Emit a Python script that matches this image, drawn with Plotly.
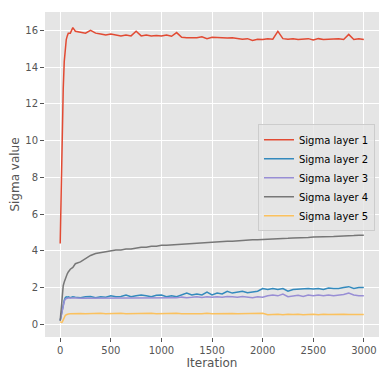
import plotly.graph_objects as go

iters = [0, 10, 20, 30, 40, 50, 60, 70, 80, 100, 125] + list(range(150, 3000, 50)) + [2999]

sigma_1 = [4.4, 7.5, 10.5, 12.8, 14.3, 15.0, 15.5, 15.7, 15.85, 15.85, 16.15,
           15.95, 15.9, 15.85, 16.0, 15.85, 15.8, 15.75, 15.8, 15.75, 15.7, 15.75, 15.7, 15.95,
           15.7, 15.75, 15.7, 15.72, 15.7, 15.75, 15.68, 15.88, 15.62, 15.6, 15.58, 15.6, 15.65,
           15.55, 15.62, 15.6, 15.62, 15.58, 15.6, 15.55, 15.52, 15.55, 15.45, 15.52, 15.5,
           15.55, 15.52, 15.95, 15.55, 15.52, 15.55, 15.5, 15.52, 15.55, 15.48, 15.55, 15.5,
           15.52, 15.5, 15.55, 15.5, 15.78, 15.5, 15.55, 15.5]
sigma_2 = [0.2, 0.5, 0.8, 1.1, 1.3, 1.45, 1.5, 1.48, 1.5, 1.45, 1.5,
           1.48, 1.45, 1.5, 1.52, 1.45, 1.5, 1.48, 1.55, 1.5, 1.52, 1.6, 1.5, 1.55,
           1.6, 1.55, 1.5, 1.58, 1.6, 1.5, 1.55, 1.5, 1.62, 1.7, 1.6, 1.65, 1.6,
           1.75, 1.6, 1.7, 1.65, 1.8, 1.7, 1.75, 1.8, 1.72, 1.78, 1.8, 1.95,
           1.9, 1.95, 1.9, 1.95, 1.8, 1.9, 1.92, 1.9, 1.95, 1.92, 1.95, 1.9,
           1.98, 1.95, 1.95, 2.0, 2.05, 1.95, 2.0, 2.0]
sigma_3 = [0.2, 0.5, 0.8, 1.05, 1.25, 1.38, 1.42, 1.42, 1.43, 1.42, 1.42,
           1.43, 1.42, 1.42, 1.45, 1.42, 1.43, 1.42, 1.45, 1.43, 1.42, 1.45, 1.43, 1.45,
           1.42, 1.44, 1.43, 1.45, 1.43, 1.42, 1.46, 1.44, 1.48, 1.45, 1.47, 1.5, 1.46,
           1.5, 1.47, 1.5, 1.48, 1.52, 1.5, 1.48, 1.52, 1.48, 1.45, 1.5, 1.47,
           1.55, 1.6, 1.55, 1.65, 1.5, 1.55, 1.58, 1.52, 1.6, 1.55, 1.6, 1.55,
           1.6, 1.55, 1.58, 1.62, 1.7, 1.6, 1.55, 1.55]
sigma_4 = [0.2, 1.0, 1.6, 2.1, 2.3, 2.5, 2.7, 2.75, 2.85, 3.0, 3.1,
           3.3, 3.4, 3.6, 3.75, 3.85, 3.9, 3.95, 4.0, 4.05, 4.05, 4.1, 4.1, 4.15,
           4.2, 4.2, 4.25, 4.25, 4.3, 4.3, 4.32, 4.35, 4.35, 4.38, 4.4, 4.4, 4.45,
           4.45, 4.48, 4.5, 4.5, 4.52, 4.52, 4.55, 4.55, 4.58, 4.6, 4.6, 4.62,
           4.63, 4.65, 4.65, 4.67, 4.68, 4.7, 4.7, 4.72, 4.73, 4.75, 4.75, 4.77,
           4.78, 4.78, 4.8, 4.8, 4.82, 4.83, 4.85, 4.85]
sigma_5 = [0.15, 0.1, 0.12, 0.25, 0.38, 0.48, 0.52, 0.55, 0.56, 0.57, 0.58,
           0.58, 0.59, 0.58, 0.6, 0.59, 0.6, 0.58, 0.6, 0.59, 0.6, 0.58, 0.59, 0.6,
           0.58, 0.59, 0.6, 0.58, 0.59, 0.57, 0.59, 0.6, 0.58, 0.59, 0.6, 0.58, 0.57,
           0.6, 0.58, 0.59, 0.58, 0.6, 0.59, 0.58, 0.59, 0.6, 0.58, 0.59, 0.6,
           0.52, 0.54, 0.55, 0.52, 0.55, 0.53, 0.55, 0.52, 0.54, 0.55, 0.52, 0.55,
           0.53, 0.54, 0.52, 0.55, 0.53, 0.52, 0.54, 0.53]

names = ["Sigma layer 1", "Sigma layer 2", "Sigma layer 3", "Sigma layer 4", "Sigma layer 5"]
colors = ["#E24A33", "#348ABD", "#988ED5", "#777777", "#FBC15E"]
series = [sigma_1, sigma_2, sigma_3, sigma_4, sigma_5]

fig = go.Figure()
for name, color, ys in zip(names, colors, series):
    fig.add_trace(go.Scatter(x=iters, y=ys, name=name, mode="lines",
                             line=dict(color=color, width=1.5)))

axis_style = dict(showgrid=True, gridcolor="white", gridwidth=1, zeroline=False,
                  ticks="outside", ticklen=4, tickcolor="#555555", showline=False,
                  tickfont=dict(size=10, color="#555555"))

# page body has an 8px margin, so the figure is 8px smaller than the window
fig.update_layout(
    width=381, height=370,
    margin=dict(l=37, r=10, t=4, b=41),
    paper_bgcolor="white", plot_bgcolor="#E5E5E5",
    font=dict(family="DejaVu Sans", color="#555555"),
    legend=dict(x=0.988, y=0.655, xanchor="right", yanchor="top",
                bgcolor="rgba(229,229,229,0.8)", bordercolor="#CCCCCC", borderwidth=1,
                font=dict(size=10, color="black")),
)
fig.update_xaxes(range=[-150, 3149], tickvals=[0, 500, 1000, 1500, 2000, 2500, 3000],
                 title=dict(text="Iteration", font=dict(size=12, color="#555555"), standoff=2),
                 **axis_style)
fig.update_yaxes(range=[-0.69, 17.0], tickvals=list(range(0, 17, 2)),
                 title=dict(text="Sigma value", font=dict(size=12, color="#555555"), standoff=4),
                 **axis_style)

fig.write_html("out.html")
